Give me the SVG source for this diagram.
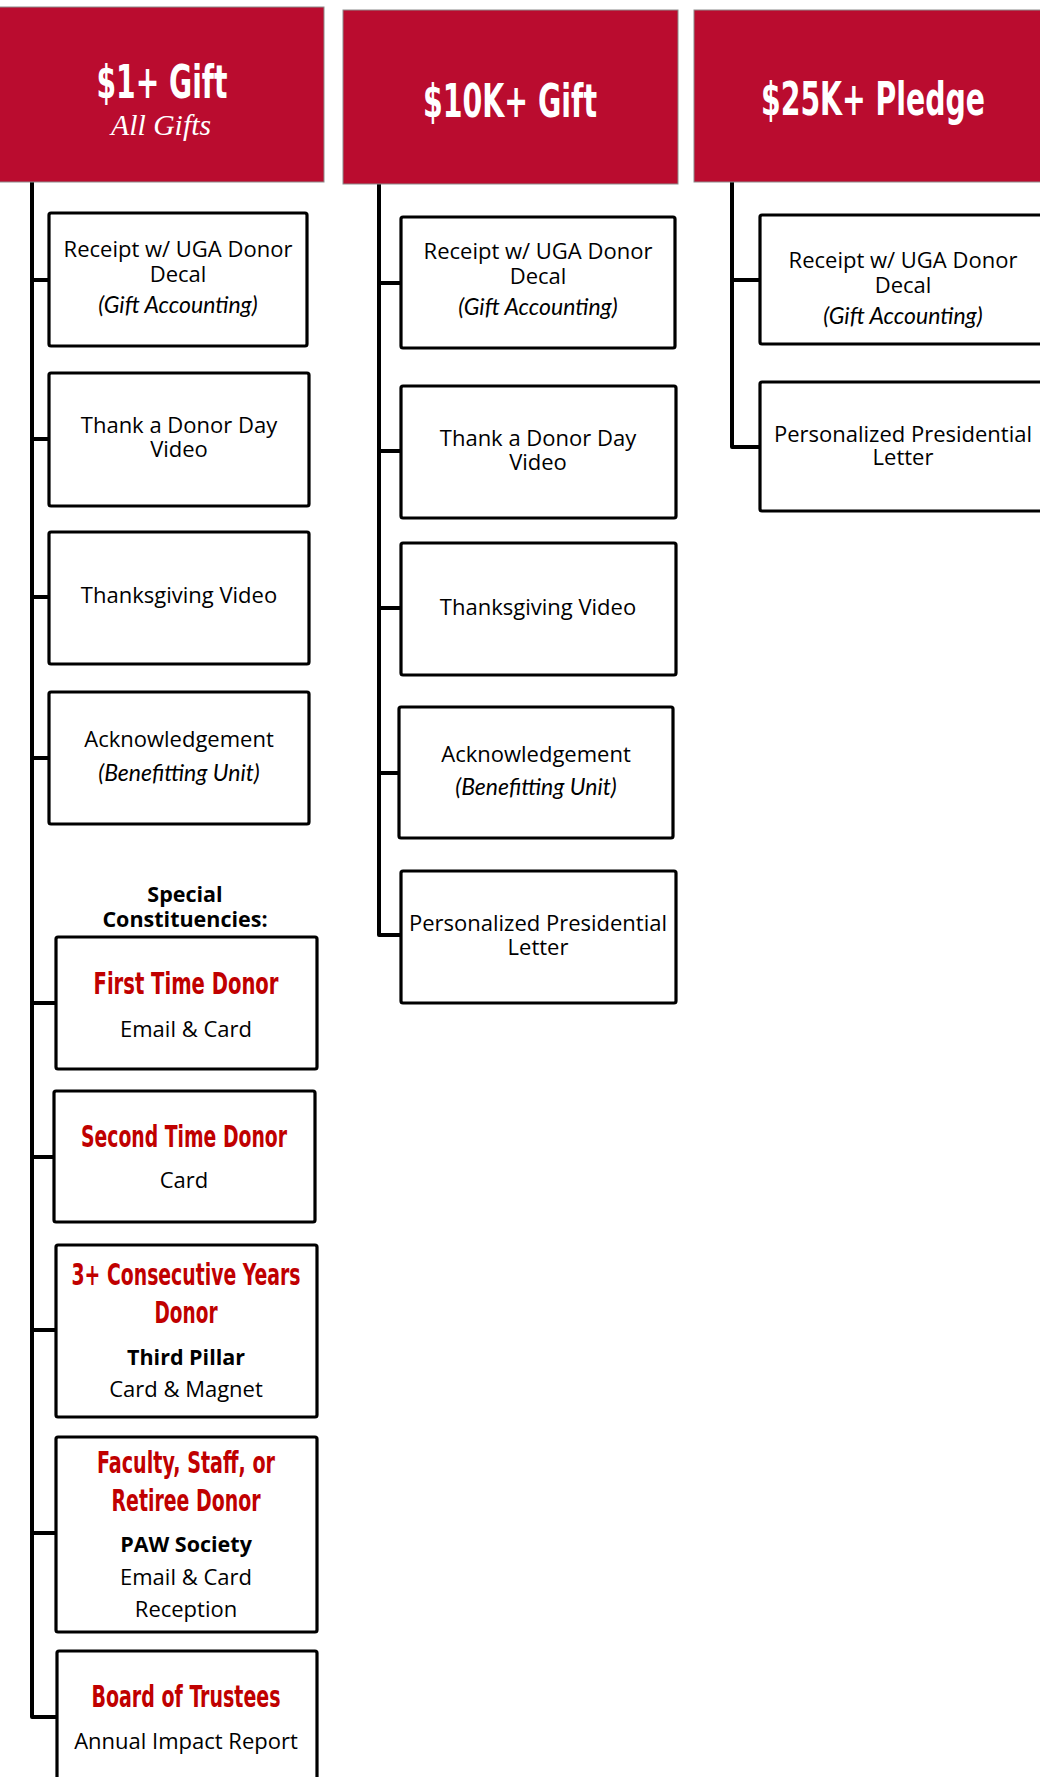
<svg xmlns="http://www.w3.org/2000/svg" width="1040" height="1777" viewBox="0 0 1040 1777">
<style>
.hdr{fill:#BA0C2F;stroke:#8c8c8c;stroke-width:1}
.ht{font-family:"Liberation Sans Narrow","DejaVu Sans Condensed","Liberation Sans",sans-serif;font-stretch:condensed;font-weight:bold;font-size:47px;fill:#fff;text-anchor:middle}
.hs{font-family:"Liberation Serif",serif;font-style:italic;font-size:29px;fill:#fff;text-anchor:middle}
.box{fill:#fff;stroke:#000;stroke-width:3.2;stroke-linejoin:round}
.t{font-family:"Open Sans","Noto Sans",sans-serif;font-size:22px;fill:#000;text-anchor:middle}
.ti{font-family:"Lato","Open Sans",sans-serif;font-style:italic;font-size:23px;fill:#000;text-anchor:middle}
.tb{font-family:"Open Sans","Noto Sans",sans-serif;font-weight:bold;font-size:21.5px;fill:#000;text-anchor:middle}
.rt{font-family:"Liberation Sans Narrow","DejaVu Sans Condensed","Liberation Sans",sans-serif;font-stretch:condensed;font-weight:bold;font-size:31px;fill:#C00000;text-anchor:middle}
.con{fill:none;stroke:#000;stroke-width:4;stroke-linejoin:round}
</style>

<g id="connectors">
<path class="con" d="M32 181 V1717 H57"/>
<path class="con" d="M32 280 H49 M32 439 H49 M32 597 H49 M32 758 H49 M32 1003 H56 M32 1157 H54 M32 1330 H56 M32 1533 H56"/>
<path class="con" d="M379 184 V935 H401"/>
<path class="con" d="M379 283 H401 M379 451 H401 M379 608 H401 M379 773 H399"/>
<path class="con" d="M732 182 V447 H760"/>
<path class="con" d="M732 280 H760"/>
</g>

<g id="header-1">
<rect class="hdr" x="-2" y="7" width="326" height="175"/>
<text class="ht" x="162" y="98" textLength="131" lengthAdjust="spacingAndGlyphs">$1+ Gift</text>
<text class="hs" x="161" y="135" textLength="100" lengthAdjust="spacingAndGlyphs">All Gifts</text>
</g>
<g id="header-2">
<rect class="hdr" x="343" y="10" width="335" height="174"/>
<text class="ht" x="510" y="117" textLength="174" lengthAdjust="spacingAndGlyphs">$10K+ Gift</text>
</g>
<g id="header-3">
<rect class="hdr" x="694" y="10" width="360" height="172"/>
<text class="ht" x="873" y="115" textLength="224" lengthAdjust="spacingAndGlyphs">$25K+ Pledge</text>
</g>

<g id="l-receipt">
<rect class="box" x="49" y="213" width="258" height="133" rx="2"/>
<text class="t" x="178" y="257">Receipt w/ UGA Donor</text>
<text class="t" x="178" y="282">Decal</text>
<text class="ti" x="178" y="313">(Gift Accounting)</text>
</g>
<g id="l-thank">
<rect class="box" x="49" y="373" width="260" height="133" rx="2"/>
<text class="t" x="179" y="433">Thank a Donor Day</text>
<text class="t" x="179" y="457">Video</text>
</g>
<g id="l-thanksgiving">
<rect class="box" x="49" y="532" width="260" height="132" rx="2"/>
<text class="t" x="179" y="603">Thanksgiving Video</text>
</g>
<g id="l-ack">
<rect class="box" x="49" y="692" width="260" height="132" rx="2"/>
<text class="t" x="179" y="747">Acknowledgement</text>
<text class="ti" x="179" y="781">(Benefitting Unit)</text>
</g>
<g id="special-label">
<text class="tb" x="185" y="902">Special</text>
<text class="tb" x="185" y="927">Constituencies:</text>
</g>
<g id="l-first">
<rect class="box" x="56" y="937" width="261" height="132" rx="2"/>
<text class="rt" x="186" y="994" textLength="185" lengthAdjust="spacingAndGlyphs">First Time Donor</text>
<text class="t" x="186" y="1037">Email &amp; Card</text>
</g>
<g id="l-second">
<rect class="box" x="54" y="1091" width="261" height="131" rx="2"/>
<text class="rt" x="184" y="1147" textLength="206" lengthAdjust="spacingAndGlyphs">Second Time Donor</text>
<text class="t" x="184" y="1188">Card</text>
</g>
<g id="l-third">
<rect class="box" x="56" y="1245" width="261" height="172" rx="2"/>
<text class="rt" x="186" y="1285" textLength="229" lengthAdjust="spacingAndGlyphs">3+ Consecutive Years</text>
<text class="rt" x="186" y="1323" textLength="63" lengthAdjust="spacingAndGlyphs">Donor</text>
<text class="tb" x="186" y="1365">Third Pillar</text>
<text class="t" x="186" y="1397">Card &amp; Magnet</text>
</g>
<g id="l-faculty">
<rect class="box" x="56" y="1437" width="261" height="195" rx="2"/>
<text class="rt" x="186" y="1473" textLength="178" lengthAdjust="spacingAndGlyphs">Faculty, Staff, or</text>
<text class="rt" x="186" y="1511" textLength="149" lengthAdjust="spacingAndGlyphs">Retiree Donor</text>
<text class="tb" x="186" y="1552">PAW Society</text>
<text class="t" x="186" y="1585">Email &amp; Card</text>
<text class="t" x="186" y="1617">Reception</text>
</g>
<g id="l-board">
<rect class="box" x="57" y="1651" width="260" height="140" rx="2"/>
<text class="rt" x="186" y="1707" textLength="189" lengthAdjust="spacingAndGlyphs">Board of Trustees</text>
<text class="t" x="186" y="1749">Annual Impact Report</text>
</g>

<g id="m-receipt">
<rect class="box" x="401" y="217" width="274" height="131" rx="2"/>
<text class="t" x="538" y="259">Receipt w/ UGA Donor</text>
<text class="t" x="538" y="284">Decal</text>
<text class="ti" x="538" y="315">(Gift Accounting)</text>
</g>
<g id="m-thank">
<rect class="box" x="401" y="386" width="275" height="132" rx="2"/>
<text class="t" x="538" y="446">Thank a Donor Day</text>
<text class="t" x="538" y="470">Video</text>
</g>
<g id="m-thanksgiving">
<rect class="box" x="401" y="543" width="275" height="132" rx="2"/>
<text class="t" x="538" y="615">Thanksgiving Video</text>
</g>
<g id="m-ack">
<rect class="box" x="399" y="707" width="274" height="131" rx="2"/>
<text class="t" x="536" y="762">Acknowledgement</text>
<text class="ti" x="536" y="795">(Benefitting Unit)</text>
</g>
<g id="m-letter">
<rect class="box" x="401" y="871" width="275" height="132" rx="2"/>
<text class="t" x="538" y="931">Personalized Presidential</text>
<text class="t" x="538" y="955">Letter</text>
</g>

<g id="r-receipt">
<rect class="box" x="760" y="215" width="290" height="129" rx="2"/>
<text class="t" x="903" y="268">Receipt w/ UGA Donor</text>
<text class="t" x="903" y="293">Decal</text>
<text class="ti" x="903" y="324">(Gift Accounting)</text>
</g>
<g id="r-letter">
<rect class="box" x="760" y="382" width="290" height="129" rx="2"/>
<text class="t" x="903" y="442">Personalized Presidential</text>
<text class="t" x="903" y="465">Letter</text>
</g>
</svg>
